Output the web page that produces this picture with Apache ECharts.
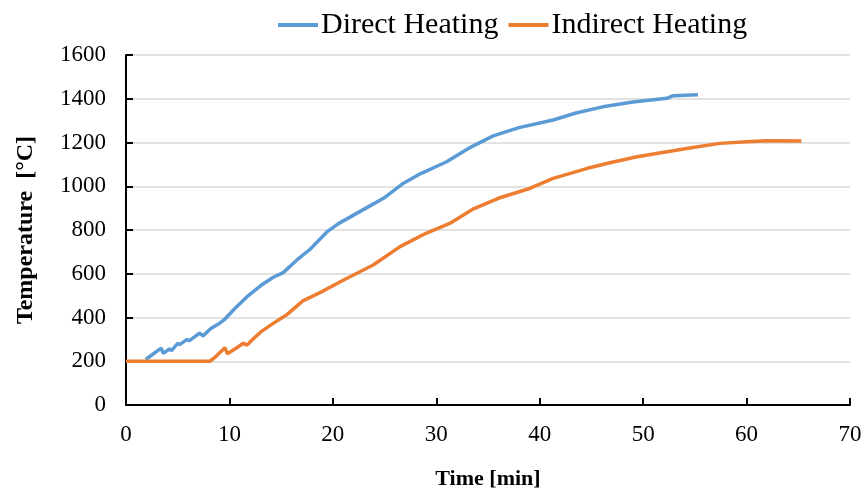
<!DOCTYPE html>
<html lang="en">
<head>
    <meta charset="UTF-8">
    <title>Temperature vs Time</title>
    <style>
        body{ margin:0; background:#fff; }
        #main{ width:868px; height:498px; }
    </style>
</head>
<body>
<div id="main"></div>
<script src="https://cdn.jsdelivr.net/npm/echarts@6/dist/echarts.min.js"></script>
<script>
    // Direct heating
    const directTime = [1.9, 3.4, 3.6, 4.2, 4.4, 5.0, 5.2, 5.9, 6.1, 7.1, 7.45, 8.2, 9.1, 9.5, 10.5, 11.7, 13.0, 14.2, 15.2, 16.5, 17.8, 19.4, 20.5, 22.0, 23.5, 24.9, 26.7, 28.5, 31.0, 33.3, 35.5, 38.0, 41.3, 43.5, 46.1, 49.0, 52.3, 52.9, 55.3];
    const directTemp = [208, 260, 236, 256, 249, 282, 276, 300, 293, 328, 316, 350, 375, 390, 440, 495, 545, 583, 605, 662, 712, 790, 828, 868, 908, 945, 1010, 1058, 1112, 1178, 1230, 1268, 1303, 1335, 1363, 1385, 1402, 1414, 1418];
    // Indirect heating
    const indirectTime = [0, 8.1, 8.6, 9.57, 9.8, 10.6, 11.35, 11.7, 12.4, 13.0, 14.2, 15.5, 17.1, 18.8, 21.0, 23.9, 26.5, 29.0, 31.3, 33.6, 36.0, 39.1, 41.3, 44.6, 47.0, 49.4, 54.2, 57.4, 60.0, 62.0, 65.3];
    const indirectTemp = [200, 200, 218, 262, 234, 258, 282, 274, 306, 333, 372, 411, 476, 515, 570, 640, 724, 785, 830, 897, 945, 991, 1036, 1082, 1110, 1135, 1173, 1196, 1203, 1208, 1207];

    const zip = (a, b) => a.map((v, i) => [v, b[i]]);
    const font = '"Liberation Serif", "Times New Roman", serif';

    const myChart = echarts.init(document.getElementById('main'));
    const option = {
        animation: false,
        color: ['#5B9BD5', '#ED7D31'],
        textStyle: { fontFamily: font },
        legend: {
            top: 5,
            left: 273,
            itemWidth: 40,
            itemHeight: 4,
            itemGap: 10,
            icon: 'rect',
            textStyle: { fontFamily: font, fontSize: 30, color: '#000', padding: [0, 0, 0, -2] },
            data: ['Direct Heating', 'Indirect Heating']
        },
        grid: { left: 126, right: 18, top: 55, bottom: 93 },
        xAxis: {
            type: 'value',
            min: 0, max: 70, interval: 10,
            name: 'Time [min]',
            nameLocation: 'middle',
            nameGap: 63,
            nameTextStyle: { fontFamily: font, fontSize: 22, fontWeight: 'bold', color: '#000' },
            axisLine: { lineStyle: { color: '#000', width: 2 } },
            axisTick: { inside: true, length: 7, lineStyle: { color: '#000', width: 2 } },
            axisLabel: { fontFamily: font, fontSize: 23, color: '#000', margin: 18 },
            splitLine: { show: false }
        },
        yAxis: {
            type: 'value',
            min: 0, max: 1600, interval: 200,
            name: 'Temperature  [°C]',
            nameLocation: 'middle',
            nameGap: 88,
            nameTextStyle: { fontFamily: font, fontSize: 24, fontWeight: 'bold', color: '#000' },
            axisLine: { show: true, lineStyle: { color: '#000', width: 2 } },
            axisTick: { show: true, inside: true, length: 7, lineStyle: { color: '#000', width: 2 } },
            axisLabel: { fontFamily: font, fontSize: 23, color: '#000', margin: 20, formatter: v => String(v) },
            splitLine: { lineStyle: { color: '#d9d9d9', width: 1.5 } }
        },
        series: [
            {
                name: 'Direct Heating',
                type: 'line',
                showSymbol: false,
                lineStyle: { width: 3.5 },
                data: zip(directTime, directTemp)
            },
            {
                name: 'Indirect Heating',
                type: 'line',
                showSymbol: false,
                lineStyle: { width: 3.5 },
                data: zip(indirectTime, indirectTemp)
            }
        ]
    };
    myChart.setOption(option);
</script>
</body>
</html>
